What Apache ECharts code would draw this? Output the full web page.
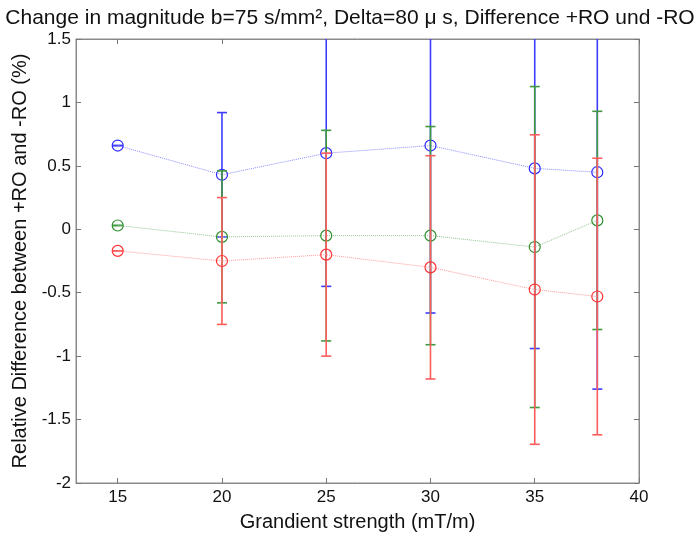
<!DOCTYPE html>
<html><head><meta charset="utf-8">
<script src="https://cdn.jsdelivr.net/npm/echarts@6/dist/echarts.min.js"></script>
<style>html,body{margin:0;padding:0;background:#fff}#c{width:700px;height:538px}</style>
</head><body><div id="c"></div>
<script>
const gradients = [15, 20, 25, 30, 35, 38];
const blueMean  = [0.66, 0.43, 0.60, 0.66, 0.48, 0.45];
const blueErr   = [0, 0.49, 1.05, 1.32, 1.42, 1.71];
const greenMean = [0.03, -0.06, -0.05, -0.05, -0.14, 0.07];
const greenErr  = [0, 0.52, 0.83, 0.86, 1.265, 0.86];
const redMean   = [-0.17, -0.25, -0.20, -0.30, -0.475, -0.53];
const redErr    = [0, 0.50, 0.80, 0.88, 1.22, 1.09];
const xTicks = [15, 20, 25, 30, 35, 40];
const yMin = -2, yMax = 1.5, yStep = 0.5;
const xMin = 13, xMax = 40;

const FONT = "'Liberation Sans', Arial, sans-serif";

function errSeries(name, color, mean, err, z) {
  return {
    type: 'custom', name: name, z: z, silent: true,
    data: gradients.map((x, i) => [x, mean[i] - err[i], mean[i] + err[i]]),
    encode: { x: 0, y: [1, 2] },
    renderItem: function (params, api) {
      const x = api.value(0), lo = api.value(1), hi = api.value(2);
      const pLo = api.coord([x, lo]), pHi = api.coord([x, hi]);
      const top = api.coord([x, yMax])[1], bot = api.coord([x, yMin])[1];
      const yHi = Math.max(pHi[1], top), yLo = Math.min(pLo[1], bot);
      const hw = 5, st = { stroke: color, lineWidth: 1.6 };
      const ch = [{ type: 'line', shape: { x1: pLo[0], y1: yLo, x2: pLo[0], y2: yHi }, style: st }];
      if (pHi[1] >= top) ch.push({ type: 'line', shape: { x1: pHi[0] - hw, y1: pHi[1], x2: pHi[0] + hw, y2: pHi[1] }, style: st });
      if (pLo[1] <= bot) ch.push({ type: 'line', shape: { x1: pLo[0] - hw, y1: pLo[1], x2: pLo[0] + hw, y2: pLo[1] }, style: st });
      return { type: 'group', children: ch };
    }
  };
}
function lineSeries(name, mark, dot, mean, z) {
  return {
    type: 'line', name: name, z: z, silent: true,
    data: gradients.map((x, i) => [x, mean[i]]),
    symbol: 'circle', symbolSize: 11,
    itemStyle: { color: 'rgba(0,0,0,0)', borderColor: mark, borderWidth: 1.2 },
    lineStyle: { color: dot, type: 'dotted', width: 1 }
  };
}

const axisGray = '#8a8a8a';
const tickStyle = { show: true, inside: true, length: 5, lineStyle: { color: '#777' } };

const chart = echarts.init(document.getElementById('c'), null, { renderer: 'canvas' });
chart.setOption({
  animation: false,
  backgroundColor: '#fff',
  title: {
    text: 'Change in magnitude b=75 s/mm², Delta=80 μ s, Difference +RO und -RO',
    left: 'center', top: 3,
    textStyle: { fontFamily: FONT, fontSize: 21, fontWeight: 'normal', color: '#111' }
  },
  grid: { left: 76, right: 61, top: 39, bottom: 55, show: true, borderColor: axisGray, borderWidth: 1 },
  xAxis: [{
    type: 'value', min: xMin, max: xMax, position: 'bottom',
    name: 'Grandient strength (mT/m)', nameLocation: 'middle', nameGap: 29,
    nameTextStyle: { fontFamily: FONT, fontSize: 20, color: '#111' },
    axisLine: { show: true, onZero: false, lineStyle: { color: axisGray } },
    axisTick: Object.assign({ customValues: xTicks }, tickStyle),
    axisLabel: { fontFamily: FONT, fontSize: 17, color: '#111', margin: 6, customValues: xTicks },
    splitLine: { show: false }
  }, {
    type: 'value', min: xMin, max: xMax, position: 'top',
    axisLine: { show: true, onZero: false, lineStyle: { color: axisGray } },
    axisTick: Object.assign({ customValues: xTicks }, tickStyle),
    axisLabel: { show: false },
    splitLine: { show: false }
  }],
  yAxis: [{
    type: 'value', min: yMin, max: yMax, interval: yStep, position: 'left',
    name: 'Relative Difference between +RO and -RO (%)', nameLocation: 'middle', nameGap: 42,
    nameTextStyle: { fontFamily: FONT, fontSize: 20, color: '#111' },
    axisLine: { show: true, onZero: false, lineStyle: { color: axisGray } },
    axisTick: tickStyle,
    axisLabel: { fontFamily: FONT, fontSize: 17, color: '#111', margin: 5 },
    splitLine: { show: false }
  }, {
    type: 'value', min: yMin, max: yMax, interval: yStep, position: 'right',
    axisLine: { show: true, onZero: false, lineStyle: { color: axisGray } },
    axisTick: tickStyle,
    axisLabel: { show: false },
    splitLine: { show: false }
  }],
  series: [
    errSeries('blueErr', '#3d3dff', blueMean, blueErr, 2),
    lineSeries('blue', '#2b2bff', '#8c8cff', blueMean, 3),
    errSeries('greenErr', '#3f9a3f', greenMean, greenErr, 4),
    lineSeries('green', '#2f8f2f', '#8fc88f', greenMean, 5),
    errSeries('redErr', '#ff5c5c', redMean, redErr, 6),
    lineSeries('red', '#ff3333', '#ff9a9a', redMean, 7)
  ]
});
</script></body></html>
